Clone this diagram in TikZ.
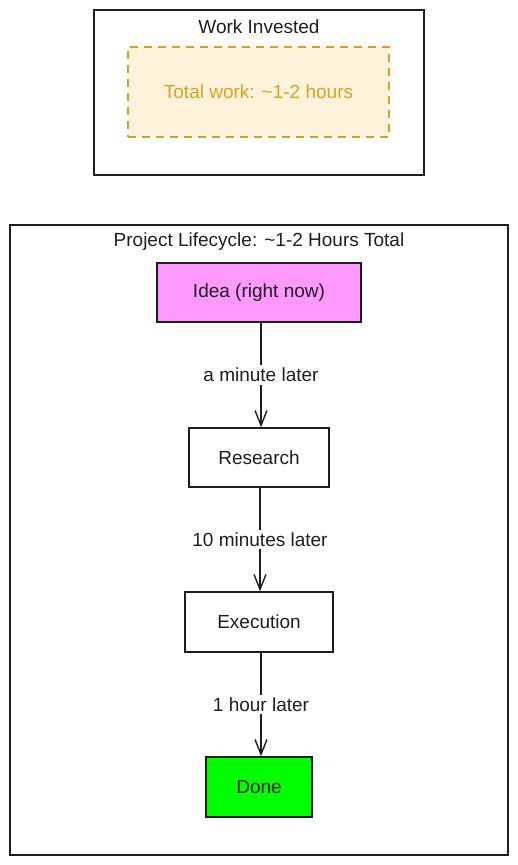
\documentclass[tikz,border=0pt]{standalone}
\usepackage{fontspec}
\setmainfont{Liberation Sans}
\usetikzlibrary{arrows.meta}
\definecolor{gold}{HTML}{D9A21B}
\definecolor{cream}{HTML}{FFF3DC}
\definecolor{violetfill}{HTML}{FF99FF}
\definecolor{donegreen}{HTML}{00FF00}
\definecolor{ink}{HTML}{1E1E1E}
\tikzset{
  frame/.style={draw=ink, line width=1.3pt},
  stepbox/.style={draw=ink, line width=1.3pt, rectangle, inner sep=0pt, font=\fontsize{19}{22}\selectfont, text=ink},
  title/.style={font=\fontsize{19}{22}\selectfont, text=ink},
  flow/.style={draw=ink, line width=1.6pt, -{Straight Barb[length=15pt,width=12pt,line width=1.4pt]}},
  lbl/.style={fill=white, font=\fontsize{19}{22}\selectfont, text=ink, inner sep=3pt},
}
\begin{document}
\begin{tikzpicture}[x=1pt,y=-1pt]
\useasboundingbox (0,0) rectangle (518,865);
% top frame
\draw[frame] (94,10) rectangle (424,175);
\node[title] (wt) at (259,27) {Work Invested};
\node[draw=gold, dashed, dash pattern=on 8pt off 6pt, line width=1.5pt, fill=cream, minimum width=261pt, minimum height=90pt, text=gold, font=\fontsize{19}{22}\selectfont] (tw) at (258.5,92) {Total work: \textasciitilde1-2 hours};
% big frame
\draw[frame] (10,225) rectangle (508,855);
\node[title] (pt) at (259,242) {Project Lifecycle: \textasciitilde1-2 Hours Total};
\node[stepbox, fill=violetfill, minimum width=204pt, minimum height=59pt] (idea) at (259,292.5) {Idea (right now)};
\node[stepbox, fill=white, minimum width=140pt, minimum height=59pt] (res) at (259,457.5) {Research};
\node[stepbox, fill=white, minimum width=148pt, minimum height=60pt] (exe) at (259,622) {Execution};
\node[stepbox, fill=donegreen, minimum width=106pt, minimum height=60pt] (done) at (259,787) {Done};
\draw[flow] (idea.south -| 261,0) -- node[lbl, pos=0.5] {a minute later} (res.north -| 261,0);
\draw[flow] (res.south -| 260,0) -- node[lbl, pos=0.5] {10 minutes later} (exe.north -| 260,0);
\draw[flow] (exe.south -| 261,0) -- node[lbl, pos=0.5] {1 hour later} (done.north -| 261,0);
\end{tikzpicture}
\end{document}
